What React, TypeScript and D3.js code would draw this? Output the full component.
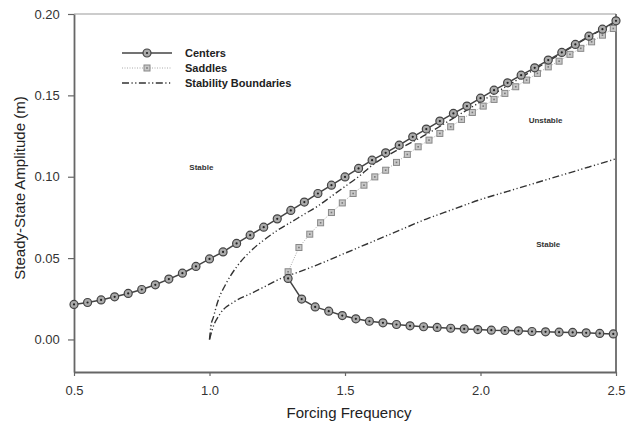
import { useEffect, useRef } from 'react'
import * as d3 from 'd3'

// upper branch of centers, step 0.05
const upperX = d3.range(0, 41).map(i => +(0.5 + i * 0.05).toFixed(2))
const upperY = [
  0.0215, 0.0227, 0.0243, 0.0262, 0.0283, 0.0307, 0.0336, 0.0371, 0.0407, 0.0449,
  0.0495, 0.0538, 0.059, 0.0641, 0.069, 0.0741, 0.0793, 0.0844, 0.0897, 0.0948,
  0.0999, 0.1051, 0.1102, 0.1147, 0.1194, 0.1245, 0.1293, 0.1342, 0.1389, 0.1434,
  0.1483, 0.1532, 0.1577, 0.1624, 0.1669, 0.1717, 0.1764, 0.1813, 0.1864, 0.1907,
  0.1958,
]

// lower branch of centers
const lowerX = d3.range(0, 25).map(i => +(1.29 + i * 0.05).toFixed(2))
const lowerY = [
  0.0375, 0.0248, 0.02, 0.0174, 0.0147, 0.0127, 0.0112, 0.0102, 0.0092, 0.0084,
  0.0078, 0.0074, 0.0069, 0.0065, 0.0061, 0.0057, 0.0055, 0.0053, 0.0049, 0.0047,
  0.0045, 0.0043, 0.0041, 0.0037, 0.0034,
]

// saddles, step 0.04
const saddleX = d3.range(0, 31).map(i => +(1.29 + i * 0.04).toFixed(2))
const saddleY = [
  0.0416, 0.0565, 0.0647, 0.0717, 0.078, 0.0839, 0.0897, 0.0948, 0.0999, 0.104,
  0.1088, 0.1137, 0.1184, 0.1225, 0.1266, 0.1307, 0.1352, 0.1395, 0.1434, 0.1475,
  0.1512, 0.1553, 0.1594, 0.1635, 0.1675, 0.171, 0.1752, 0.1789, 0.1829, 0.187,
  0.1911,
]

// stability boundaries
const boundUpX = [1.0, 1.005, 1.015, 1.03, 1.06, 1.1, 1.15, 1.2, 1.25, 1.3, 1.35, 1.4, 1.45, 1.5, 1.55, 1.6, 1.7, 1.8, 1.9, 2.0, 2.1, 2.2, 2.3, 2.4, 2.5]
const boundUpY = [0.0, 0.008, 0.014, 0.023, 0.034, 0.0446, 0.054, 0.061, 0.067, 0.072, 0.077, 0.082, 0.088, 0.094, 0.1, 0.107, 0.117, 0.126, 0.136, 0.146, 0.156, 0.166, 0.176, 0.186, 0.195]
const boundLowX = [1.0, 1.01, 1.04, 1.09, 1.15, 1.21, 1.27, 1.33, 1.4, 1.5, 1.6, 1.7, 1.8, 1.9, 2.0, 2.1, 2.2, 2.3, 2.4, 2.5]
const boundLowY = [0.0, 0.006, 0.016, 0.023, 0.028, 0.033, 0.038, 0.0415, 0.046, 0.053, 0.06, 0.067, 0.074, 0.08, 0.086, 0.091, 0.096, 0.101, 0.106, 0.111]

const xTicks = [0.5, 1.0, 1.5, 2.0, 2.5]
const yTicks = [0.0, 0.05, 0.1, 0.15, 0.2]

const legendLabels = ['Centers', 'Saddles', 'Stability Boundaries']
const regionLabels = [
  { text: 'Stable', x: 0.97, y: 0.104 },
  { text: 'Unstable', x: 2.24, y: 0.133 },
  { text: 'Stable', x: 2.25, y: 0.057 },
]

const FONT = '"Liberation Sans", Arial, sans-serif'
const DASH = '7,2.5,1.2,2.5,1.2,2.5'

export default function App() {
  const svgRef = useRef<SVGSVGElement>(null)

  useEffect(() => {
    document.body.style.margin = '0'
    const svg = d3.select(svgRef.current)
    svg.selectAll('*').remove()

    const x = d3.scaleLinear().domain([0.5, 2.5]).range([74, 616])
    const y = d3.scaleLinear().domain([-0.02, 0.2]).range([372, 14])

    const line = d3.line<[number, number]>().x(d => x(d[0])).y(d => y(d[1]))
    const curve = d3.line<[number, number]>().x(d => x(d[0])).y(d => y(d[1])).curve(d3.curveMonotoneX)

    const zip = (xs: number[], ys: number[]) => xs.map((v, i) => [v, ys[i]] as [number, number])

    // frame
    svg.append('line').attr('x1', 74).attr('x2', 616).attr('y1', 14).attr('y2', 14)
      .attr('stroke', '#999').attr('stroke-width', 1.2)
    svg.append('line').attr('x1', 616).attr('x2', 616).attr('y1', 14).attr('y2', 372)
      .attr('stroke', '#777').attr('stroke-width', 2)

    // axes
    const xAxis = d3.axisBottom(x).tickValues(xTicks).tickFormat(d3.format('.1f')).tickSize(4).tickSizeOuter(0)
    const gx = svg.append('g').attr('transform', 'translate(0,372)').call(xAxis)
    const yAxis = d3.axisLeft(y).tickValues(yTicks).tickFormat(d3.format('.2f')).tickSize(6).tickSizeOuter(0)
    const gy = svg.append('g').attr('transform', 'translate(74,0)').call(yAxis)
    for (const g of [gx, gy]) {
      g.select('.domain').attr('stroke', '#666').attr('stroke-width', 1.8)
      g.selectAll('.tick line').attr('stroke', '#666').attr('stroke-width', 1.2)
      g.selectAll('.tick text').attr('fill', '#333').attr('font-family', FONT).attr('font-size', 13)
    }
    gx.selectAll('.tick text').attr('dy', '1.25em')
    gy.selectAll('.tick text').attr('dx', '-0.4em')

    svg.append('text').attr('x', 349).attr('y', 418).attr('text-anchor', 'middle')
      .attr('font-family', FONT).attr('font-size', 15).attr('fill', '#222').text('Forcing Frequency')
    svg.append('text').attr('transform', 'translate(25,188) rotate(-90)').attr('text-anchor', 'middle')
      .attr('font-family', FONT).attr('font-size', 15).attr('fill', '#222').text('Steady-State Amplitude (m)')

    // stability boundaries
    for (const [xs, ys] of [[boundUpX, boundUpY], [boundLowX, boundLowY]]) {
      svg.append('path').attr('d', curve(zip(xs, ys)))
        .attr('fill', 'none').attr('stroke', '#333').attr('stroke-width', 1.4).attr('stroke-dasharray', DASH)
    }

    // saddles
    const sad = zip(saddleX, saddleY)
    svg.append('path').attr('d', line(sad)).attr('fill', 'none')
      .attr('stroke', '#aaa').attr('stroke-width', 1).attr('stroke-dasharray', '1,1.5')
    const drawSquare = (g: any, cx: number, cy: number) => {
      g.append('rect').attr('x', cx - 3).attr('y', cy - 3).attr('width', 6).attr('height', 6)
        .attr('fill', '#c8c8c8').attr('stroke', '#888').attr('stroke-width', 1)
      g.append('rect').attr('x', cx - 0.8).attr('y', cy - 0.8).attr('width', 1.6).attr('height', 1.6).attr('fill', '#777')
    }
    const sg = svg.append('g')
    sad.forEach(d => drawSquare(sg, x(d[0]), y(d[1])))

    // centers
    const drawCircle = (g: any, cx: number, cy: number) => {
      g.append('circle').attr('cx', cx).attr('cy', cy).attr('r', 4)
        .attr('fill', '#aaa').attr('stroke', '#444').attr('stroke-width', 1.2)
      g.append('circle').attr('cx', cx).attr('cy', cy).attr('r', 1.1).attr('fill', '#222')
    }
    for (const [xs, ys] of [[upperX, upperY], [lowerX, lowerY]]) {
      const pts = zip(xs, ys)
      svg.append('path').attr('d', line(pts)).attr('fill', 'none').attr('stroke', '#444').attr('stroke-width', 1.5)
      const cg = svg.append('g')
      pts.forEach(d => drawCircle(cg, x(d[0]), y(d[1])))
    }

    // legend
    const lg = svg.append('g')
    legendLabels.forEach((label, i) => {
      const ly = 53 + i * 15
      const l = lg.append('line').attr('x1', 122).attr('x2', 172).attr('y1', ly).attr('y2', ly)
      if (i === 0) {
        l.attr('stroke', '#444').attr('stroke-width', 1.5)
        drawCircle(lg, 147, ly)
      } else if (i === 1) {
        l.attr('stroke', '#aaa').attr('stroke-width', 1).attr('stroke-dasharray', '1,1.5')
        drawSquare(lg, 147, ly)
      } else {
        l.attr('stroke', '#333').attr('stroke-width', 1.4).attr('stroke-dasharray', DASH)
      }
      lg.append('text').attr('x', 185).attr('y', ly + 4).attr('font-family', FONT)
        .attr('font-size', 11).attr('font-weight', 'bold').attr('fill', '#222').text(label)
    })

    // region labels
    regionLabels.forEach(r => {
      svg.append('text').attr('x', x(r.x)).attr('y', y(r.y)).attr('text-anchor', 'middle')
        .attr('font-family', FONT).attr('font-size', 8).attr('font-weight', 'bold').attr('fill', '#333').text(r.text)
    })
  }, [])

  return <svg ref={svgRef} width={636} height={425} style={{ display: 'block', background: '#fff' }} />
}
